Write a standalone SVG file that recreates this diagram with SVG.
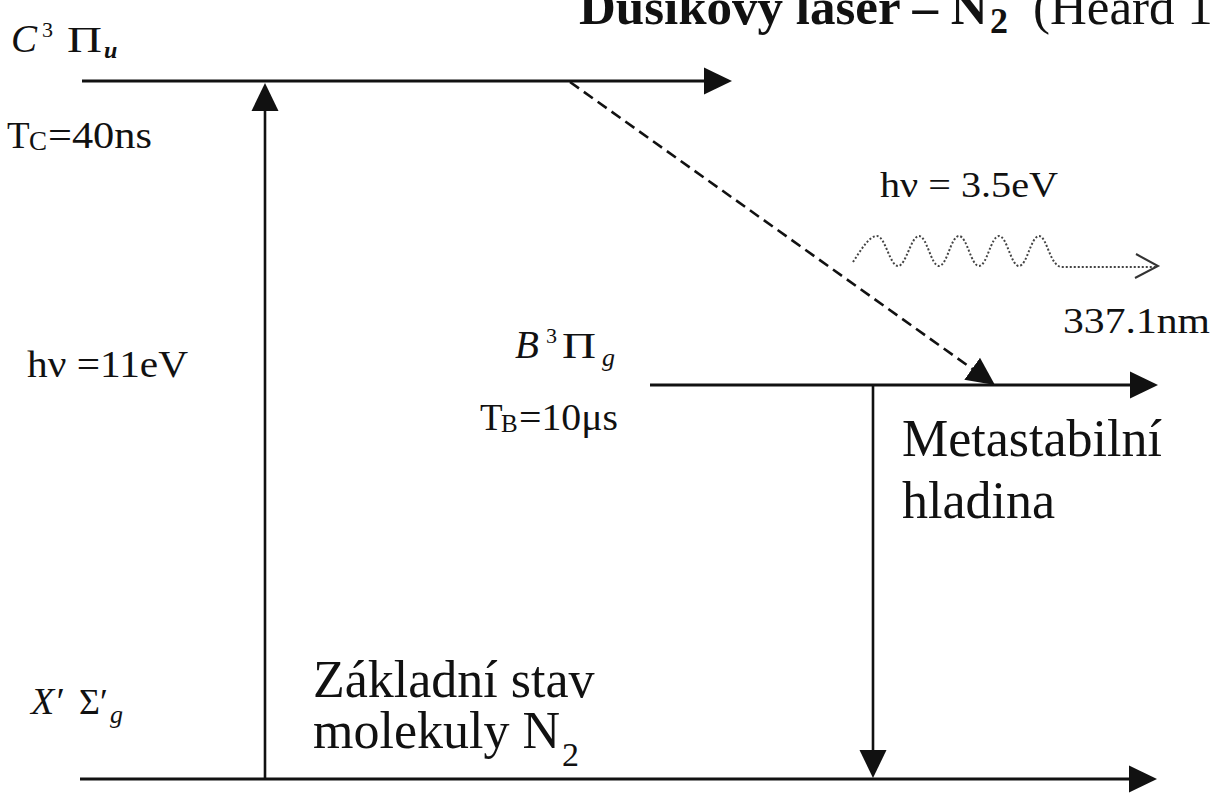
<svg xmlns="http://www.w3.org/2000/svg" width="1211" height="794" viewBox="0 0 1211 794">
  <style>
    .serif { font-family: "Liberation Serif", "Times New Roman", serif; fill: #111; }
    .it { font-style: italic; }
    .lvl { stroke: #111; stroke-width: 3; fill: none; }
    .vt { stroke: #111; stroke-width: 2.6; fill: none; }
    .dash { stroke: #111; stroke-width: 2.6; fill: none; stroke-dasharray: 11 6; }
    .photon { stroke: #444; stroke-width: 2; fill: none; stroke-dasharray: 2 2; }
    .chev { stroke: #333; stroke-width: 2; fill: none; }
    .big { font-size: 52px; }
    .lab { font-size: 37px; }
  </style>
  <defs>
    <marker id="ah" markerUnits="userSpaceOnUse" markerWidth="28" markerHeight="28" viewBox="0 0 28 28" refX="17" refY="14" orient="auto">
      <path d="M0,0.5 L28,14 L0,27.5 z" fill="#111"/>
    </marker>
  </defs>
  <rect x="0" y="0" width="1211" height="794" fill="#fff"/>

  <g id="title">
    <text class="serif" x="579" y="24" font-size="51" font-weight="bold">Dusíkový laser – N</text>
    <text class="serif" x="990" y="33" font-size="36" font-weight="bold">2</text>
    <text class="serif" x="1033" y="24" font-size="51">(Heard 1</text>
  </g>

  <g id="level-C">
    <text class="serif it" x="11" y="52" font-size="39">C</text>
    <text class="serif" x="42" y="37" font-size="22">3</text>
    <text class="serif" x="67" y="52" font-size="36" textLength="35" lengthAdjust="spacingAndGlyphs">Π</text>
    <text class="serif it" x="104" y="58" font-size="24" font-weight="bold">u</text>
    <text class="serif lab" x="7" y="148">T</text>
    <text class="serif" x="29" y="150" font-size="27">C</text>
    <text class="serif lab" x="48" y="148" textLength="104" lengthAdjust="spacingAndGlyphs">=40ns</text>
  </g>

  <g id="level-B">
    <text class="serif it" x="515" y="358" font-size="39">B</text>
    <text class="serif" x="546" y="343" font-size="22">3</text>
    <text class="serif" x="562" y="358" font-size="36" textLength="34" lengthAdjust="spacingAndGlyphs">Π</text>
    <text class="serif it" x="602" y="366" font-size="26">g</text>
    <text class="serif lab" x="480" y="430">T</text>
    <text class="serif" x="501" y="432" font-size="25">B</text>
    <text class="serif lab" x="519" y="430" textLength="99" lengthAdjust="spacingAndGlyphs">=10μs</text>
    <text class="serif big" x="902" y="456">Metastabilní</text>
    <text class="serif big" x="902" y="518">hladina</text>
  </g>

  <g id="level-X">
    <text class="serif it" x="31" y="714" font-size="38">X′</text>
    <text class="serif" x="79" y="714" font-size="36">Σ′</text>
    <text class="serif it" x="110" y="723" font-size="26">g</text>
    <text class="serif big" x="313" y="697">Základní stav</text>
    <text class="serif big" x="313" y="748">molekuly N</text>
    <text class="serif" x="562" y="766" font-size="34">2</text>
  </g>

  <g id="pump-label">
    <text class="serif lab" x="27" y="377" textLength="161" lengthAdjust="spacingAndGlyphs">hν =11eV</text>
  </g>

  <g id="photon">
    <text class="serif" x="880" y="197" font-size="35" textLength="178" lengthAdjust="spacingAndGlyphs">hν = 3.5eV</text>
    <text class="serif" x="1063" y="333" font-size="36" textLength="147" lengthAdjust="spacingAndGlyphs">337.1nm</text>
    <path class="photon" d="M853,262 C861,250 869,236 877,236 C885,236 890,266 898,266 C906,266 911,236 919,236 C927,236 931,266 939,266 C947,266 951,236 959,236 C967,236 971,266 979,266 C987,266 991,236 999,236 C1007,236 1011,266 1019,266 C1027,266 1031,236 1039,236 C1047,236 1050,267 1062,267 L1155,267"/>
    <path class="chev" d="M1136,254 L1158,266 L1135,278"/>
  </g>

  <g id="connectors">
    <line class="lvl" x1="82" y1="81" x2="721" y2="81" marker-end="url(#ah)"/>
    <line class="lvl" x1="650" y1="385" x2="1147" y2="385" marker-end="url(#ah)"/>
    <line class="lvl" x1="80" y1="779" x2="1146" y2="779" marker-end="url(#ah)"/>
    <line class="vt" x1="265" y1="779" x2="265" y2="94" marker-end="url(#ah)"/>
    <line class="vt" x1="873" y1="385" x2="873" y2="767" marker-end="url(#ah)"/>
    <line class="dash" x1="570" y1="82" x2="986" y2="378.6" marker-end="url(#ah)"/>
  </g>
</svg>
